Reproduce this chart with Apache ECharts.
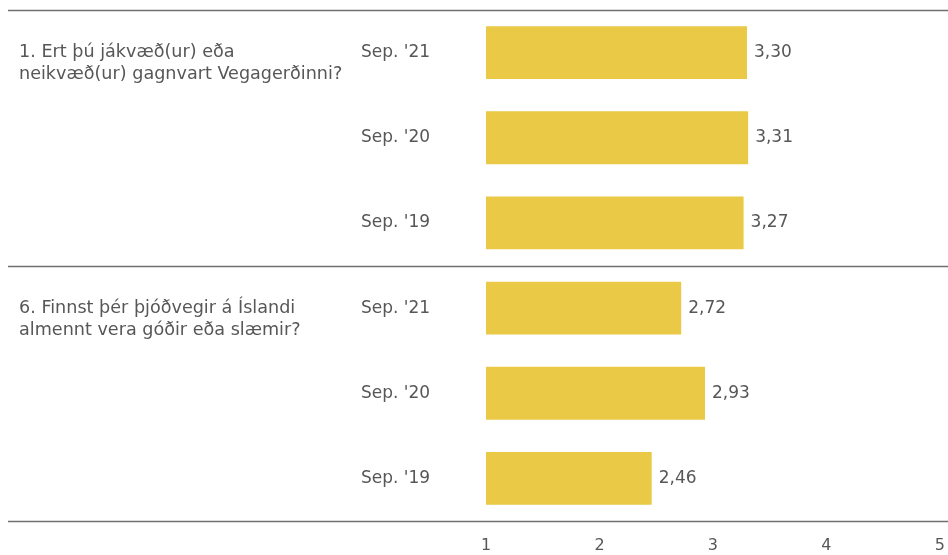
<!DOCTYPE html>
<html>
<head>
<meta charset="utf-8">
<script src="https://cdn.jsdelivr.net/npm/echarts@6/dist/echarts.min.js"></script>
<style>
  html, body { margin: 0; padding: 0; background: #fff; }
  #container { width: 948px; height: 555px; }
</style>
</head>
<body>
<div id="container"></div>
<script>
var periods = ["Sep. '21", "Sep. '20", "Sep. '19", "Sep. '21", "Sep. '20", "Sep. '19"];
var scores = [3.30, 3.31, 3.27, 2.72, 2.93, 2.46];
var questions = [
	"1. Ert þú jákvæð(ur) eða\nneikvæð(ur) gagnvart Vegagerðinni?",
	"", "",
	"6. Finnst þér þjóðvegir á Íslandi\nalmennt vera góðir eða slæmir?",
	"", ""
];
var xTicks = [1, 2, 3, 4, 5];
// rows where a new question group starts (separator lines above them)
var groupStarts = [0, 3, 6];

var font = 'DejaVu Sans';
var textColor = '#575757';

var dom = document.getElementById("container");
var myChart = echarts.init(dom);

var option = {
	animation: false,
	grid: {
		left: 486,
		right: 7,
		top: 10,
		bottom: 34
	},
	xAxis: {
		type: 'value',
		min: xTicks[0],
		max: xTicks[xTicks.length - 1],
		interval: 1,
		axisLine: { show: false },
		axisTick: { show: false },
		splitLine: { show: false },
		axisLabel: {
			margin: 17,
			fontFamily: font,
			fontSize: 16,
			color: textColor
		}
	},
	yAxis: [{
		type: 'category',
		inverse: true,
		data: periods,
		axisLine: { show: false },
		axisTick: { show: false },
		axisLabel: {
			align: 'left',
			margin: 125,
			fontFamily: font,
			fontSize: 17,
			color: textColor
		}
	}, {
		type: 'category',
		inverse: true,
		position: 'left',
		data: questions,
		axisLine: { show: false },
		axisTick: { show: false },
		axisLabel: {
			align: 'left',
			margin: 467,
			interval: 0,
			fontFamily: font,
			fontSize: 17.6,
			lineHeight: 22,
			color: textColor,
			// blank first line so the question's first line sits on the row's centre
			formatter: function(v) {
				return v ? ' \n' + v : '';
			}
		}
	}],
	series: [{
		type: 'bar',
		data: scores,
		barCategoryGap: '38%',
		itemStyle: { color: '#EAC946' },
		label: {
			show: true,
			position: 'right',
			distance: 7,
			fontFamily: font,
			fontSize: 17,
			color: textColor,
			formatter: function(p) {
				return p.value.toFixed(2).replace('.', ',');
			}
		}
	}]
};
myChart.setOption(option);

// separator lines, placed from the category axis boundaries
var lines = [];
var rowH = (555 - 10 - 34) / periods.length;
for (var i = 0; i < groupStarts.length; i++) {
	var y = Math.round(10 + groupStarts[i] * rowH) + 0.5;
	lines.push({
		type: 'line',
		shape: { x1: 8, y1: y, x2: 948, y2: y },
		style: { stroke: '#707070', lineWidth: 1.5 },
		z: 10
	});
}
myChart.setOption({ graphic: lines });
</script>
</body>
</html>
